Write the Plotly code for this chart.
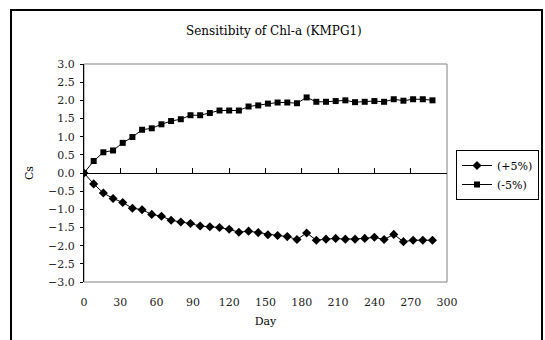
import plotly.graph_objects as go

days = [0, 8, 16, 24, 32, 40, 48, 56, 64, 72, 80, 88, 96, 104, 112, 120, 128, 136,
        144, 152, 160, 168, 176, 184, 192, 200, 208, 216, 224, 232, 240, 248, 256,
        264, 272, 280, 288]
plus5 = [0.00, -0.30, -0.55, -0.70, -0.81, -0.97, -1.01, -1.14, -1.19, -1.30, -1.35,
         -1.39, -1.46, -1.48, -1.50, -1.55, -1.63, -1.60, -1.64, -1.70, -1.72, -1.75,
         -1.83, -1.65, -1.85, -1.82, -1.80, -1.82, -1.82, -1.80, -1.77, -1.83, -1.69,
         -1.89, -1.85, -1.85, -1.85]
minus5 = [0.00, 0.33, 0.57, 0.62, 0.83, 0.99, 1.19, 1.23, 1.34, 1.43, 1.48, 1.59,
          1.59, 1.65, 1.72, 1.72, 1.72, 1.83, 1.86, 1.91, 1.94, 1.94, 1.92, 2.08,
          1.96, 1.96, 1.98, 2.00, 1.95, 1.96, 1.98, 1.96, 2.03, 1.99, 2.03, 2.03, 2.00]
series_names = ["(+5%)", "(-5%)"]
title_text = "Sensitibity of Chl-a (KMPG1)"
x_title = "Day"
y_title = "Cs"

FONT = "DejaVu Serif"
W, H = 545, 340
L, R, T, B = 84, 98, 64, 58
pw, ph = W - L - R, H - T - B

def px_x(p):
    return (p - L) / pw

def px_y(p):
    return (H - B - p) / ph

fig = go.Figure()
fig.add_trace(go.Scatter(x=days, y=plus5, name=series_names[0], mode="lines+markers",
                         line=dict(color="black", width=1),
                         marker=dict(symbol="diamond", size=7, color="black")))
fig.add_trace(go.Scatter(x=days, y=minus5, name=series_names[1], mode="lines+markers",
                         line=dict(color="black", width=1),
                         marker=dict(symbol="square", size=6, color="black")))
# helper trace so the zero-crossing axis is drawn
fig.add_trace(go.Scatter(x=[0], y=[0], xaxis="x2", mode="markers",
                         marker=dict(opacity=0), showlegend=False, hoverinfo="skip"))

fig.update_layout(
    width=W, height=H,
    margin=dict(l=L, r=R, t=T, b=B, autoexpand=False),
    paper_bgcolor="white", plot_bgcolor="white",
    font=dict(family=FONT, size=11, color="black"),
    showlegend=True,
    legend=dict(x=px_x(456), y=px_y(150), xanchor="left", yanchor="top",
                bgcolor="white", bordercolor="black", borderwidth=1,
                font=dict(family=FONT, size=11, color="black"),
                itemwidth=30, tracegroupgap=0),
    xaxis=dict(range=[0, 300], dtick=30, tick0=0, showgrid=False, zeroline=False,
               showline=False, ticks="", ticklabelstandoff=12,
               tickfont=dict(family=FONT, size=11, color="#222"),
               title=dict(text=x_title, font=dict(family=FONT, size=11), standoff=9)),
    xaxis2=dict(range=[0, 300], dtick=30, tick0=0, overlaying="x", anchor="free",
                position=0.5, showline=True, linecolor="black", linewidth=1,
                ticks="inside", ticklen=5, tickcolor="black", showticklabels=False,
                showgrid=False, zeroline=False),
    yaxis=dict(range=[-3, 3], dtick=0.5, tick0=0, tickformat=".1f", showgrid=False,
               zeroline=False, showline=True, linecolor="black", linewidth=1,
               ticks="outside", ticklen=3, tickcolor="black", ticklabelstandoff=3,
               tickfont=dict(family=FONT, size=11, color="#222"),
               title=dict(text=y_title, font=dict(family=FONT, size=11), standoff=12)),
    shapes=[
        dict(type="rect", xref="paper", yref="paper", x0=0, x1=1, y0=0, y1=1,
             line=dict(color="#808080", width=1), layer="below"),
        dict(type="rect", xref="paper", yref="paper", x0=px_x(11), x1=px_x(542),
             y0=px_y(360), y1=px_y(10), line=dict(color="black", width=2), layer="below"),
    ],
    annotations=[dict(text=title_text, xref="paper", yref="paper", x=px_x(274),
                      y=px_y(31), xanchor="center", yanchor="middle", showarrow=False,
                      font=dict(family=FONT, size=12, color="black"))],
)

fig.write_html("out.html")
